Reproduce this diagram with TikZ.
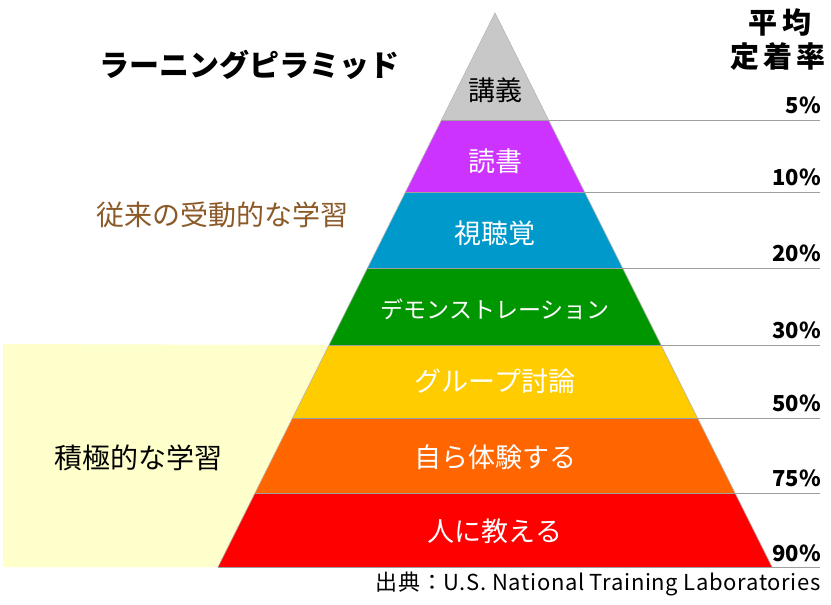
\documentclass[tikz,border=0pt]{standalone}
\usepackage{fontspec}
\setmainfont{Noto Sans CJK JP}
\definecolor{cgrey}{RGB}{200,200,200}
\definecolor{cpurple}{RGB}{204,51,255}
\definecolor{cblue}{RGB}{0,153,204}
\definecolor{cgreen}{RGB}{0,150,0}
\definecolor{cyellow}{RGB}{255,204,0}
\definecolor{corange}{RGB}{255,102,0}
\definecolor{cred}{RGB}{255,0,0}
\definecolor{bgy}{RGB}{255,255,204}
\definecolor{brownt}{RGB}{140,90,40}
\begin{document}
\begin{tikzpicture}[x=1pt,y=-1pt,
  lay/.style={font=\fontsize{27}{30}\selectfont, text=white, inner sep=0pt},
  pct/.style={font=\bfseries\fontsize{22}{24}\selectfont, anchor=base east, inner sep=0pt},
  sepline/.style={draw=gray!75, line width=1pt},
  hdr/.style={font=\bfseries\fontsize{29}{32}\selectfont, inner sep=0pt},
  side/.style={font=\fontsize{28}{32}\selectfont, inner sep=0pt}]
\useasboundingbox (0,0) rectangle (831,605);
\fill[white] (0,0) rectangle (831,605);
% coordinates of pyramid
\coordinate (apex) at (495,13);
\coordinate (b1l) at (441.5,120); \coordinate (b1r) at (548.5,120);
\coordinate (b2l) at (405.5,192); \coordinate (b2r) at (584.5,192);
\coordinate (b3l) at (367.5,268); \coordinate (b3r) at (622.5,268);
\coordinate (b4l) at (329,345);   \coordinate (b4r) at (661,345);
\coordinate (b5l) at (292.5,418); \coordinate (b5r) at (697.5,418);
\coordinate (b6l) at (255,493);   \coordinate (b6r) at (735,493);
\coordinate (b7l) at (218,567);   \coordinate (b7r) at (772,567);
\foreach \i/\y in {1/120,2/192,3/268,4/345,5/418,6/493,7/567}{
  \coordinate (e\i) at (820,\y);
}
% yellow background
\fill[bgy] (3,344) -- (b4l) -- (b7l) -- (3,567) -- cycle;
% layers
\fill[cgrey]   (apex) -- (b1r) -- (b1l) -- cycle;
\fill[cpurple] (b1l) -- (b1r) -- (b2r) -- (b2l) -- cycle;
\fill[cblue]   (b2l) -- (b2r) -- (b3r) -- (b3l) -- cycle;
\fill[cgreen]  (b3l) -- (b3r) -- (b4r) -- (b4l) -- cycle;
\fill[cyellow] (b4l) -- (b4r) -- (b5r) -- (b5l) -- cycle;
\fill[corange] (b5l) -- (b5r) -- (b6r) -- (b6l) -- cycle;
\fill[cred]    (b6l) -- (b6r) -- (b7r) -- (b7l) -- cycle;
\draw[gray!60, line width=0.6pt] (b7l) -- (apex) -- (b7r);
% separator lines
\foreach \i in {1,...,7}{
  \draw[sepline] (b\i l) -- (e\i);
}
% layer labels
\node[lay, text=black] (l1) at (495,90) {講義};
\node[lay] (l2) at (495,161) {読書};
\node[lay] (l3) at (495,233) {視聴覚};
\node[lay, font=\fontsize{23}{26}\selectfont] (l4) at (495,309) {デモンストレーション};
\node[lay] (l5) at (495,381) {グループ討論};
\node[lay] (l6) at (495,457) {自ら体験する};
\node[lay] (l7) at (495,531) {人に教える};
% percentages
\node[pct] (p1) at (821,113) {5\%};
\node[pct] (p2) at (821,185) {10\%};
\node[pct] (p3) at (821,261) {20\%};
\node[pct] (p4) at (821,338) {30\%};
\node[pct] (p5) at (821,411) {50\%};
\node[pct] (p6) at (821,486) {75\%};
\node[pct] (p7) at (821,561) {90\%};
% header
\node[hdr] (h1) at (780,22) {平\hspace{5pt}均};
\node[hdr] (h2) at (778,57) {定\hspace{4pt}着\hspace{4pt}率};
% title
\node[font=\bfseries\fontsize{30}{34}\selectfont, inner sep=0pt, anchor=west] (title) at (99,65) {ラーニングピラミッド};
% side labels
\node[side, text=brownt, anchor=west] (passive) at (96,215) {従来の受動的な学習};
\node[side, anchor=west] (active) at (54,458) {積極的な学習};
% source
\node[font=\addfontfeatures{LetterSpace=3}\fontsize{22}{24}\selectfont, inner sep=0pt, anchor=east] (src) at (821,584) {出典：U.S. National Training Laboratories};
\end{tikzpicture}
\end{document}
